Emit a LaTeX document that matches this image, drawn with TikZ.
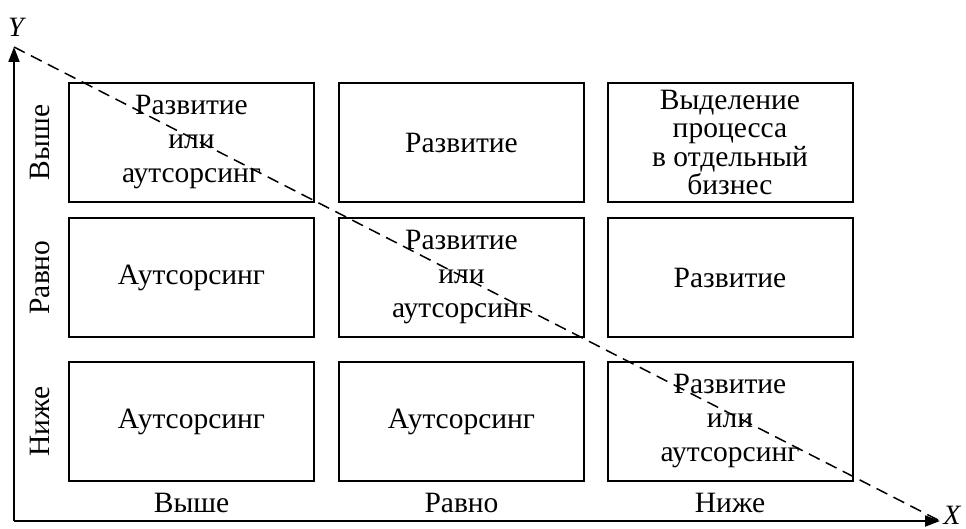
\documentclass[tikz,border=0pt]{standalone}
\usepackage{fontspec}
\setmainfont{Liberation Serif}
\usetikzlibrary{arrows.meta}
\begin{document}
\begin{tikzpicture}[x=1pt,y=-1pt,
  txt/.style={font=\fontsize{29.5}{34}\selectfont,inner sep=0pt},
  cell/.style={txt,draw,line width=2pt,minimum width=245pt,minimum height=119pt,
    align=center},
  tight/.style={font=\fontsize{29.5}{28.5}\selectfont},
  axis/.style={line width=2pt,-{Triangle[length=15pt,width=11pt]}},
  diag/.style={line width=1.5pt,dash pattern=on 12pt off 7pt}]
\useasboundingbox (0,0) rectangle (966,529);
% axes
\coordinate (O) at (14,521);
\coordinate (Ytip) at (14,47);
\coordinate (Xtip) at (940,521);
\draw[axis] (O) -- (Ytip);
\draw[axis] (O) -- (Xtip);
\node[txt,font=\itshape\fontsize{28}{34}\selectfont] (ylab) at (16,27) {Y};
\node[txt,font=\itshape\fontsize{28}{34}\selectfont] (xlab) at (952,515) {X};
% grid of cells
\node[cell] (c11) at (191.5,142.5) {Развитие\\или\\аутсорсинг};
\node[cell] (c12) at (461.5,142.5) {Развитие};
\node[cell,tight] (c13) at (730,142.5) {Выделение\\процесса\\в отдельный\\бизнес};
\node[cell] (c21) at (191.5,277.5) {Аутсорсинг};
\node[cell] (c22) at (461.5,277.5) {Развитие\\или\\аутсорсинг};
\node[cell] (c23) at (730,277.5) {Развитие};
\node[cell] (c31) at (191.5,421.5) {Аутсорсинг};
\node[cell] (c32) at (461.5,421.5) {Аутсорсинг};
\node[cell] (c33) at (730,421.5) {Развитие\\или\\аутсорсинг};
% axis labels
\node[txt] (xa) at (191.5,503) {Выше};
\node[txt] (xb) at (461.5,503) {Равно};
\node[txt] (xc) at (730,503) {Ниже};
\node[txt,rotate=90] (ya) at (40,142.5) {Выше};
\node[txt,rotate=90] (yb) at (40,277.5) {Равно};
\node[txt,rotate=90] (yc) at (40,421.5) {Ниже};
% diagonal
\draw[diag] (Ytip) -- (Xtip);
\end{tikzpicture}
\end{document}
